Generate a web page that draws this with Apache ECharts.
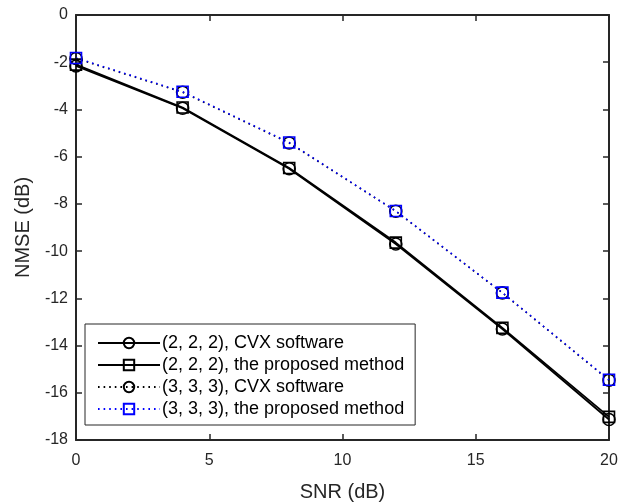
<!DOCTYPE html>
<html>
<head>
<meta charset="utf-8">
<script src="https://cdn.jsdelivr.net/npm/echarts@6/dist/echarts.min.js"></script>
<style>
  html, body { margin: 0; padding: 0; background: #fff; }
  #chart { width: 619px; height: 504px; }
</style>
</head>
<body>
<div id="chart"></div>
<script>
// SNR values (dB)
const snr = [0, 4, 8, 12, 16, 20]
// NMSE (dB)
const cvx222 = [-2.16, -3.95, -6.51, -9.70, -13.30, -17.13]
const prop222 = [-2.10, -3.92, -6.48, -9.64, -13.25, -17.02]
const cvx333 = [-1.84, -3.27, -5.42, -8.31, -11.77, -15.47]
const prop333 = [-1.82, -3.25, -5.40, -8.30, -11.76, -15.45]
const names = [
  '(2, 2, 2), CVX software',
  '(2, 2, 2), the proposed method',
  '(3, 3, 3), CVX software',
  '(3, 3, 3), the proposed method'
]

const axisColor = '#262626'
const font = 'Liberation Sans, Arial, sans-serif'

function pairs (ys) {
  return snr.map((x, i) => [x, ys[i]])
}

function makeSeries (name, ys, color, dotted, symbol, size) {
  return {
    name: name,
    type: 'line',
    data: pairs(ys),
    xAxisIndex: 0,
    yAxisIndex: 0,
    symbol: symbol,
    symbolSize: size,
    showAllSymbol: true,
    lineStyle: {
      color: color,
      width: dotted ? 1.6 : 1.8,
      type: dotted ? [1.6, 4] : 'solid'
    },
    itemStyle: {
      color: 'transparent',
      borderColor: color,
      borderWidth: 1.6
    },
    emphasis: { disabled: true },
    animation: false
  }
}

function boxAxis (pos, extra) {
  return Object.assign({
    type: 'value',
    position: pos,
    axisLine: { onZero: false, lineStyle: { color: axisColor, width: 2 } },
    axisTick: { inside: true, length: 6, lineStyle: { color: axisColor, width: 1.5 } },
    axisLabel: { show: false },
    splitLine: { show: false }
  }, extra)
}

const chart = echarts.init(document.getElementById('chart'))
chart.setOption({
  backgroundColor: '#fff',
  textStyle: { fontFamily: font },
  grid: { left: 76, right: 10, top: 15, bottom: 64, containLabel: false, outerBoundsMode: 'none' },
  legend: {
    orient: 'vertical',
    left: 85,
    top: 324,
    padding: [10, 11, 7, 12],
    itemGap: 4,
    itemWidth: 62,
    itemHeight: 13,
    backgroundColor: '#fff',
    borderColor: axisColor,
    borderWidth: 1,
    textStyle: { fontSize: 18, color: '#000', fontFamily: font, padding: [0, 0, 0, -3] },
    data: names
  },
  xAxis: [
    boxAxis('bottom', {
      min: 0, max: 20, interval: 5,
      name: 'SNR (dB)', nameLocation: 'middle', nameGap: 42,
      nameTextStyle: { fontSize: 20, color: axisColor, fontFamily: font },
      axisLabel: { show: true, fontSize: 16, color: axisColor, margin: 13, fontFamily: font }
    }),
    boxAxis('top', { min: 0, max: 20, interval: 5 })
  ],
  yAxis: [
    boxAxis('left', {
      min: -18, max: 0, interval: 2,
      name: 'NMSE (dB)', nameLocation: 'middle', nameGap: 41, nameRotate: 90,
      nameTextStyle: { fontSize: 20, color: axisColor, fontFamily: font },
      axisLabel: { show: true, fontSize: 16, color: axisColor, margin: 8, fontFamily: font }
    }),
    boxAxis('right', { min: -18, max: 0, interval: 2 })
  ],
  series: [
    makeSeries(names[0], cvx222, '#000', false, 'circle', 12),
    makeSeries(names[1], prop222, '#000', false, 'rect', 11),
    makeSeries(names[2], cvx333, '#000', true, 'circle', 12),
    makeSeries(names[3], prop333, '#0000ff', true, 'rect', 11)
  ]
})
</script>
</body>
</html>
